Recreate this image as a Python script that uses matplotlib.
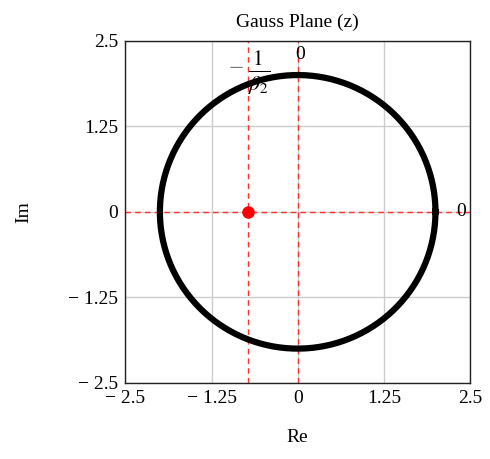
import numpy as np
import matplotlib
matplotlib.use('Agg')
import matplotlib.pyplot as plt

plt.rcParams['font.family'] = ['Liberation Serif', 'DejaVu Serif']
plt.rcParams['mathtext.fontset'] = 'stix'

# circle |z| = r and the pole at -1/beta2
radius = 2.0
pole_re = -0.72
ticks = [-2.5, -1.25, 0, 1.25, 2.5]
tick_labels = ['\u2212 2.5', '\u2212 1.25', '0', '1.25', '2.5']

theta = np.linspace(0, 2 * np.pi, 400)

fig = plt.figure(figsize=(4.9, 4.59), dpi=100)
ax = fig.add_axes([0.256, 0.166, 0.703, 0.745])

ax.plot(radius * np.cos(theta), radius * np.sin(theta), color='black', lw=4.5, zorder=3)

ax.axvline(pole_re, color='#ff3030', ls=(0, (4, 3)), lw=1, zorder=2)
ax.axvline(0, color='#ff3030', ls=(0, (4, 3)), lw=1, zorder=2)
ax.axhline(0, color='#ff3030', ls=(0, (4, 3)), lw=1, zorder=2)
ax.plot([pole_re], [0], 'o', color='red', ms=8, zorder=4)

# marker labels
ax.text(-0.9, 2.07, '\u2212', fontsize=19, color='#777777', ha='center', va='center')
ax.text(-0.56, 2.03, r'$\frac{1}{\beta_2}$', fontsize=22, ha='center', va='center', zorder=5)
ax.text(0.04, 2.3, '0', fontsize=14, ha='center', va='center')
ax.text(2.37, 0, '0', fontsize=14, ha='center', va='center')

ax.set_xlim(-2.5, 2.5)
ax.set_ylim(-2.5, 2.5)
ax.set_xticks(ticks)
ax.set_xticklabels(tick_labels)
ax.set_yticks(ticks)
ax.set_yticklabels(tick_labels)
ax.tick_params(length=0, labelsize=14, pad=5)
ax.grid(True, color='#cccccc', lw=1)
ax.set_axisbelow(True)
for s in ax.spines.values():
    s.set_color('#222222')
    s.set_linewidth(1)

ax.set_title('Gauss Plane (z)', fontsize=14, pad=10)
ax.set_xlabel('Re', fontsize=14, labelpad=16)
ax.set_ylabel('Im', fontsize=14, labelpad=26)

fig.savefig('out.png', dpi=100)
